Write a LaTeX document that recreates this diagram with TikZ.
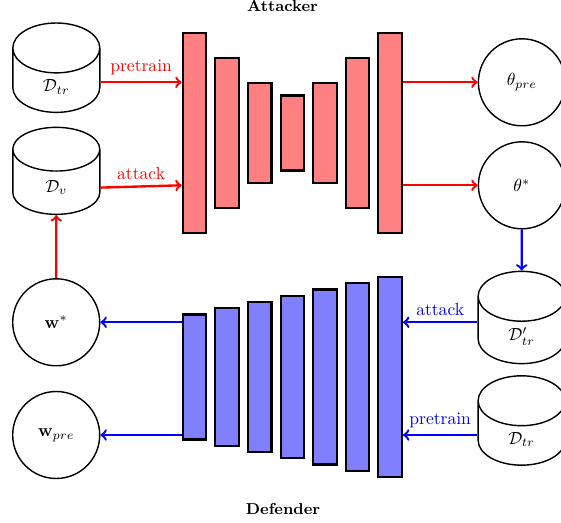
\documentclass[tikz,border=0pt]{standalone}
\usepackage{amsmath,amssymb}
\usepackage{tikz}
\usetikzlibrary{positioning, arrows, shapes}
\tikzset{
    param/.style={draw, circle, thick, minimum size=1.74cm, inner sep=0pt},
    dset/.style={draw, cylinder, shape border rotate=90, aspect=1.3, thick, minimum height=1.74cm, minimum width=1.74cm, anchor=shape center},
    atk/.style={draw, rectangle, fill=red!50, very thick, minimum width=0.47cm, inner sep=0pt},
    dfd/.style={draw, rectangle, fill=blue!50, very thick, minimum width=0.47cm, inner sep=0pt},
    connR/.style={->, red, line width=1.35pt},
    connB/.style={->, blue, line width=1.35pt},
}

\begin{document}
\begin{tikzpicture}
    \useasboundingbox (0,0) rectangle (11.22,-10.46);

    \node[anchor=base] (atitle) at (5.65,-0.234) {\small\bfseries Attacker};
    \node[anchor=base] (dtitle) at (5.66,-10.286) {\small\bfseries Defender};

    % attacker side
    \node [atk, minimum height=4cm] (r1) at (3.89,-2.66) {};
    \node [atk, minimum height=3cm, right=0.14cm of r1] (r2) {};
    \node [atk, minimum height=2cm, right=0.14cm of r2] (r3) {};
    \node [atk, minimum height=1.5cm, right=0.14cm of r3] (r4) {};
    \node [atk, minimum height=2cm, right=0.14cm of r4] (r5) {};
    \node [atk, minimum height=3cm, right=0.14cm of r5] (r6) {};
    \node [atk, minimum height=4cm, right=0.14cm of r6] (r7) {};

    \node [dset] (dtr) at (1.126,-1.354) {$\mathcal{D}_{tr}$};
    \node [dset] (dv) at (1.126,-3.417) {$\mathcal{D}_v$};
    \node [param] (tpre) at (10.438,-1.646) {$\theta_{pre}$};
    \node [param] (tstar) at (10.438,-3.706) {$\theta^*$};

    % defender side
    \node [dfd, minimum height=2.5cm] (b1) at (3.89,-7.54) {};
    \node [dfd, minimum height=2.75cm, right=0.14cm of b1] (b2) {};
    \node [dfd, minimum height=3cm, right=0.14cm of b2] (b3) {};
    \node [dfd, minimum height=3.25cm, right=0.14cm of b3] (b4) {};
    \node [dfd, minimum height=3.5cm, right=0.14cm of b4] (b5) {};
    \node [dfd, minimum height=3.75cm, right=0.14cm of b5] (b6) {};
    \node [dfd, minimum height=4cm, right=0.14cm of b6] (b7) {};

    \node [dset] (dtrp) at (10.432,-6.35) {$\mathcal{D}'_{tr}$};
    \node [dset] (dtrb) at (10.432,-8.41) {$\mathcal{D}_{tr}$};
    \node [param] (wstar) at (1.124,-6.446) {$\mathbf{w}^*$};
    \node [param] (wpre) at (1.124,-8.7) {$\mathbf{w}_{pre}$};

    \draw[connR] (dtr.east |- tpre) -- (r1.west |- tpre) node[midway, above] {pretrain};
    \draw[connR] (dv.east) -- (r1.west |- tstar) node[midway, above] {attack};
    \draw[connR] (r7.east |- tpre) -- (tpre);
    \draw[connR] (r7.east |- tstar) -- (tstar);
    \draw[connR] (wstar) -- (dv);

    \draw[connB] (tstar) -- (dtrp);
    \draw[connB] (dtrp.west |- wstar) -- (b7.east |- wstar) node[midway, above] {attack};
    \draw[connB] (dtrb.west |- wpre) -- (b7.east |- wpre) node[midway, above] {pretrain};
    \draw[connB] (b1.west |- wstar) -- (wstar);
    \draw[connB] (b1.west |- wpre) -- (wpre);
\end{tikzpicture}
\end{document}
